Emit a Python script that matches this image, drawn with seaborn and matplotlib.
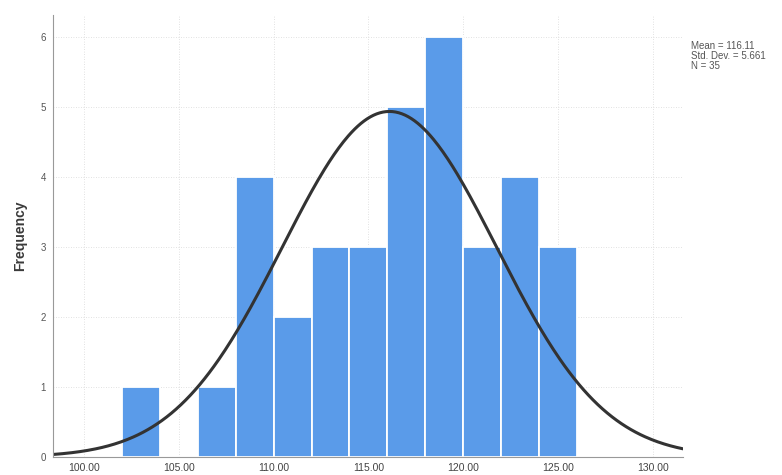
import numpy as np
import pandas as pd
import matplotlib
matplotlib.use("Agg")
import matplotlib.pyplot as plt
import seaborn as sns

# histogram bins (width 2) and counts
bin_edges = [102, 104, 106, 108, 110, 112, 114, 116, 118, 120, 122, 124, 126]
counts = [1, 0, 1, 4, 2, 3, 3, 5, 6, 3, 4, 3]
x_ticks = [100, 105, 110, 115, 120, 125, 130]
y_ticks = [0, 1, 2, 3, 4, 5, 6]

mean_val = 116.11
std_val = 5.661
n_val = 35

sns.set_style("white")
plt.rcParams['font.family'] = ['Liberation Sans', 'DejaVu Sans']

centers = [(a + b) / 2 for a, b in zip(bin_edges[:-1], bin_edges[1:])]
df = pd.DataFrame({"value": centers, "count": counts})

fig = plt.figure(figsize=(7.82, 4.75), dpi=100)
ax = fig.add_axes([0.0678, 0.0379, 0.8056, 0.9305])

sns.histplot(data=df, x="value", weights="count", bins=bin_edges,
             color="#5a9be9", alpha=1.0, edgecolor="white", linewidth=1.3, ax=ax)

# normal curve scaled to counts
xmin, xmax = 98.36, 131.6
xs = np.linspace(xmin, xmax, 400)
binw = bin_edges[1] - bin_edges[0]
ys = n_val * binw / (std_val * np.sqrt(2 * np.pi)) * np.exp(-0.5 * ((xs - mean_val) / std_val) ** 2)
sns.lineplot(x=xs, y=ys, color="#333333", linewidth=2.2, ax=ax)

ax.set_xlim(xmin, xmax)
ax.set_ylim(0, 6.31)
ax.set_xticks(x_ticks)
ax.set_xticklabels([f"{t:.2f}" for t in x_ticks], fontsize=7.5, color="#444444")
ax.set_yticks(y_ticks)
ax.set_yticklabels([str(t) for t in y_ticks], fontsize=7, color="#555555")
ax.tick_params(axis="both", length=2, color="#999999", pad=3)
ax.tick_params(axis="x", pad=2)
ax.set_xlabel("")
ax.set_ylabel("Frequency", fontsize=10, fontweight="bold", color="#3a3a3a", labelpad=10)

ax.grid(True, linestyle=(0, (1, 2)), color="#d8d8d8", linewidth=0.6)
ax.set_axisbelow(True)
for s in ["top", "right"]:
    ax.spines[s].set_visible(False)
for s in ["left", "bottom"]:
    ax.spines[s].set_color("#999999")
    ax.spines[s].set_linewidth(0.8)

fig.text(691 / 782, 1 - 41 / 475,
         f"Mean = {mean_val:.2f}\nStd. Dev. = {std_val}\nN = {n_val}",
         fontsize=7, color="#555555", va="top", ha="left", linespacing=1.0)

fig.savefig("out.png", dpi=100)
